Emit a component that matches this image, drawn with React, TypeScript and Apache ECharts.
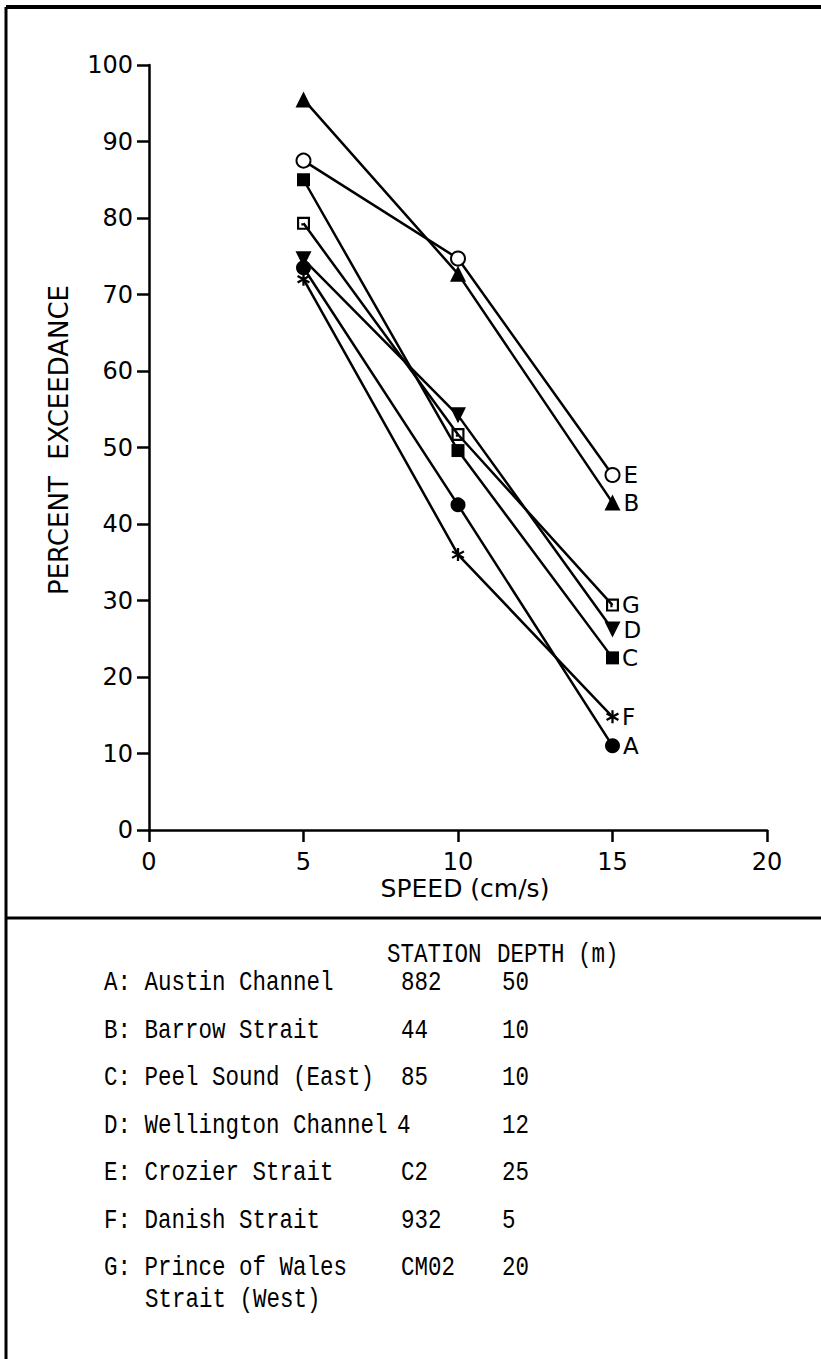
import React, { useEffect, useRef } from "react";
import * as echarts from "echarts";

const speeds = [5, 10, 15];
const seriesNames = ["A", "B", "C", "D", "E", "F", "G"];
const valuesA = [73.5, 42.5, 11.0];
const valuesB = [95.5, 72.7, 42.8];
const valuesC = [85.0, 49.6, 22.5];
const valuesD = [74.6, 54.2, 26.2];
const valuesE = [87.5, 74.7, 46.4];
const valuesF = [72.0, 36.0, 14.8];
const valuesG = [79.3, 51.7, 29.4];
const allValues = [valuesA, valuesB, valuesC, valuesD, valuesE, valuesF, valuesG];

const xTitle = "SPEED (cm/s)";
const yTitle = "PERCENT  EXCEEDANCE";

const tableHeader = ["STATION", "DEPTH (m)"];
const tableNames = [
  "A: Austin Channel",
  "B: Barrow Strait",
  "C: Peel Sound (East)",
  "D: Wellington Channel",
  "E: Crozier Strait",
  "F: Danish Strait",
  "G: Prince of Wales",
];
const tableStations = ["882", "44", "85", "4", "C2", "932", "CM02"];
const tableDepths = ["50", "10", "10", "12", "25", "5", "20"];
const tableContinuation = "Strait (West)";

// asterisk and dotted-square symbols
const asteriskPath =
  "path://M-1,-6L1,-6L1,6L-1,6Z" +
  "M-5.696,-2.134L-4.696,-3.866L5.696,2.134L4.696,3.866Z" +
  "M4.696,-3.866L5.696,-2.134L-4.696,3.866L-5.696,2.134Z";
const dotSquarePath =
  "path://M0,0L12,0L12,12L0,12Z M2,2L2,10L10,10L10,2Z M4,6L6,6L6,8L4,8Z";

const symbols: any[] = [
  { symbol: "circle", size: 15, rotate: 0 },
  { symbol: "triangle", size: 16, rotate: 0 },
  { symbol: "rect", size: 13, rotate: 0 },
  { symbol: "triangle", size: 16, rotate: 180 },
  { symbol: "emptyCircle", size: 14, rotate: 0 },
  { symbol: asteriskPath, size: 13, rotate: 0 },
  { symbol: dotSquarePath, size: 13, rotate: 0 },
];

const sansFont = "DejaVu Sans";
const monoFont = "Liberation Mono";

export default function App() {
  const ref = useRef<HTMLDivElement>(null);

  useEffect(() => {
    if (!ref.current) return;
    const chart = echarts.init(ref.current, null, { renderer: "svg" });

    const series = seriesNames.map((name, i) => ({
      name,
      type: "line",
      data: speeds.map((s, j) => [s, allValues[i][j]]),
      symbol: symbols[i].symbol,
      symbolSize: symbols[i].size,
      symbolRotate: symbols[i].rotate,
      showAllSymbol: true,
      lineStyle: { color: "#000", width: 2.5 },
      itemStyle: { color: "#000", borderColor: "#000", borderWidth: name === "E" ? 2 : 0 },
      emphasis: { disabled: true },
      label: {
        show: true,
        position: "right",
        distance: 3,
        color: "#000",
        fontSize: 23,
        lineHeight: 20,
        fontFamily: sansFont,
        formatter: (p: any) => (p.dataIndex === speeds.length - 1 ? p.seriesName : ""),
      },
      z: 3,
    }));

    const tStyle = (text: string) => ({
      text,
      fontSize: 22.5,
      fontFamily: monoFont,
      fill: "#000",
      textVerticalAlign: "middle",
    });

    const rowStart = 983;
    const rowStep = 47.5;
    const graphics: any[] = [
      { type: "line", shape: { x1: 6, y1: 7, x2: 821, y2: 7 }, style: { stroke: "#000", lineWidth: 4 } },
      { type: "line", shape: { x1: 6, y1: 7, x2: 6, y2: 1359 }, style: { stroke: "#000", lineWidth: 3 } },
      { type: "line", shape: { x1: 6, y1: 918, x2: 821, y2: 918 }, style: { stroke: "#000", lineWidth: 3 } },
      {
        type: "text",
        x: 59,
        y: 440,
        rotation: Math.PI / 2,
        style: {
          text: yTitle,
          fontSize: 26,
          fontFamily: sansFont,
          fill: "#000",
          textAlign: "center",
          textVerticalAlign: "middle",
        },
      },
      {
        type: "text",
        x: 465,
        y: 888,
        style: {
          text: xTitle,
          fontSize: 25,
          fontFamily: sansFont,
          fill: "#000",
          textAlign: "center",
          textVerticalAlign: "middle",
        },
      },
      { type: "text", x: 387, y: rowStart - 28, scaleY: 1.25, style: tStyle(tableHeader[0]) },
      { type: "text", x: 497, y: rowStart - 28, scaleY: 1.25, style: tStyle(tableHeader[1]) },
    ];
    tableNames.forEach((n, i) => {
      const y = rowStart + i * rowStep;
      graphics.push({ type: "text", x: 104, y, scaleY: 1.25, style: tStyle(n) });
      graphics.push({ type: "text", x: i === 3 ? 397 : 401, y, scaleY: 1.25, style: tStyle(tableStations[i]) });
      graphics.push({ type: "text", x: 502, y, scaleY: 1.25, style: tStyle(tableDepths[i]) });
    });
    graphics.push({
      type: "text",
      x: 145,
      y: rowStart + 6 * rowStep + 32,
      scaleY: 1.25,
      style: tStyle(tableContinuation),
    });

    chart.setOption({
      animation: false,
      backgroundColor: "#fff",
      grid: { left: 149, right: 54, top: 65, bottom: 529, containLabel: false },
      xAxis: {
        type: "value",
        min: 0,
        max: 20,
        interval: 5,
        axisLine: { show: true, onZero: false, lineStyle: { color: "#000", width: 2.5 } },
        axisTick: { show: true, length: 12, lineStyle: { color: "#000", width: 2.5 } },
        splitLine: { show: false },
        axisLabel: { color: "#000", fontSize: 24, fontFamily: sansFont, margin: 20 },
      },
      yAxis: {
        type: "value",
        min: 0,
        max: 100,
        interval: 10,
        axisLine: { show: true, onZero: false, lineStyle: { color: "#000", width: 2.5 } },
        axisTick: { show: true, length: 12, lineStyle: { color: "#000", width: 2.5 } },
        splitLine: { show: false },
        axisLabel: { color: "#000", fontSize: 24, fontFamily: sansFont, margin: 16 },
      },
      series,
      graphic: graphics,
    });

    return () => chart.dispose();
  }, []);

  return (
    <div
      ref={ref}
      style={{ position: "absolute", left: 0, top: 0, width: 821, height: 1359, background: "#fff" }}
    />
  );
}
